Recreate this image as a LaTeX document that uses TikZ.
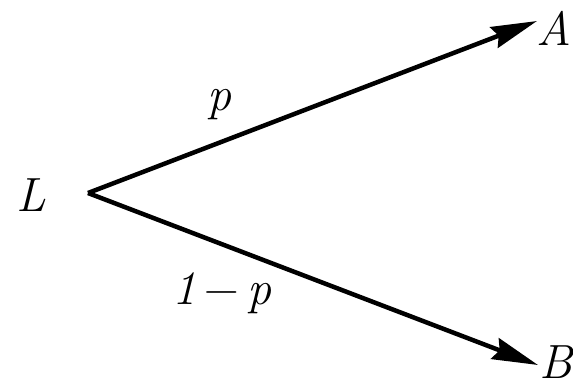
\documentclass[tikz,border=0pt]{standalone}
\usetikzlibrary{arrows.meta}
\begin{document}
\begin{tikzpicture}[x=1pt,y=-1pt,
  lbl/.style={inner sep=0pt,font=\fontsize{48}{52}\selectfont\itshape},
  edge/.style={line width=4.5pt,-{Stealth[length=46pt,width=22pt,inset=5pt]}}]
\useasboundingbox (0,0) rectangle (573,384);
\coordinate (o) at (88,193);
\coordinate (ta) at (537,21);
\coordinate (tb) at (538,365);
\node[lbl] (L) at (31,195) {L};
\node[lbl] (A) at (554,28) {A};
\node[lbl] (B) at (556,362) {B};
\draw[edge] (o) -- (ta);
\draw[edge] (o) -- (tb);
\node[lbl] (p) at (219,105) {p};
\node[lbl] (q) at (222,293) {1\,\textup{−}\,p};
\end{tikzpicture}
\end{document}
